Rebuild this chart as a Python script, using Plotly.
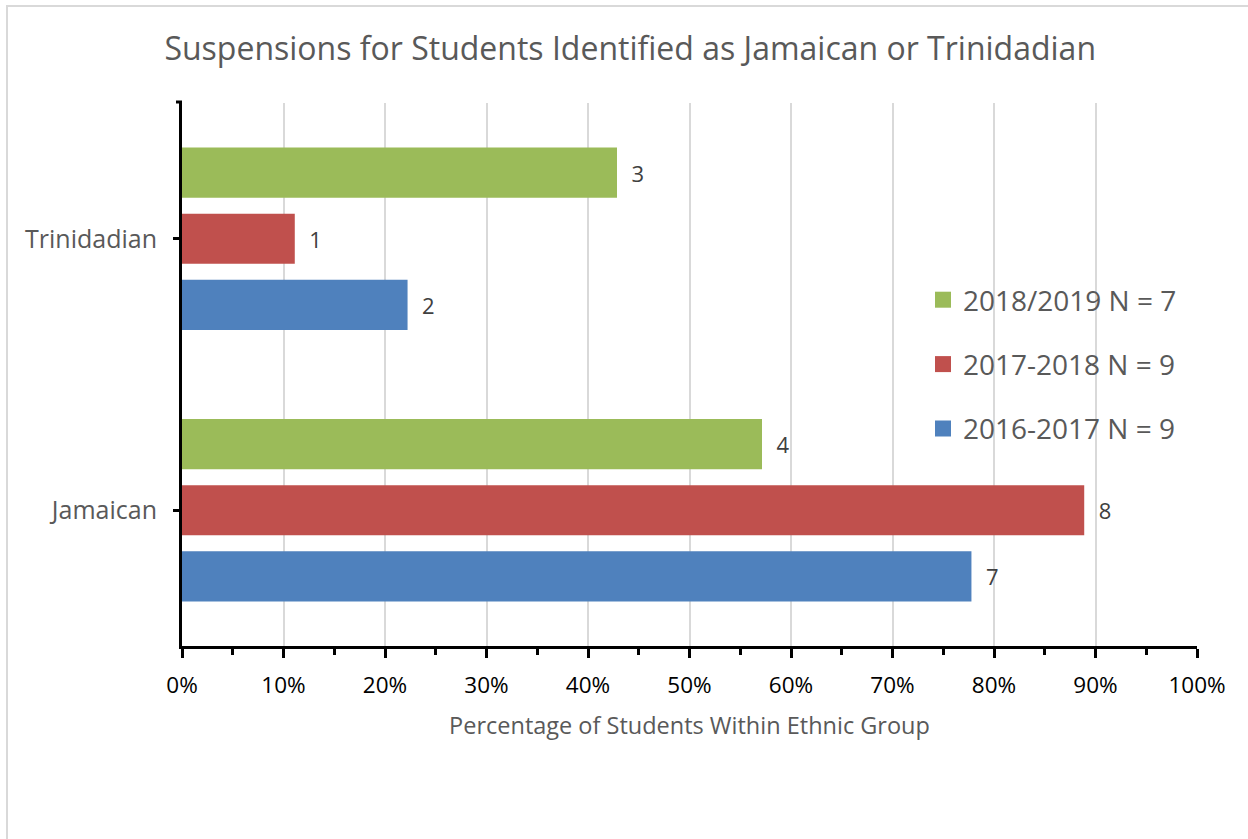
import plotly.graph_objects as go

# Ethnic groups (bottom to top on the category axis)
groups = ["Jamaican", "Trinidadian"]

# School years, cohort sizes and suspension counts per group
years = ["2016-2017", "2017-2018", "2018/2019"]
cohort_n = [9, 9, 7]
counts_2016_2017 = [7, 2]
counts_2017_2018 = [8, 1]
counts_2018_2019 = [4, 3]

colors = ["#4F81BD", "#C0504D", "#9BBB59"]
font_family = "'Open Sans', sans-serif"

fig = go.Figure()
series = [counts_2016_2017, counts_2017_2018, counts_2018_2019]
for i, (year, n, counts, color) in enumerate(zip(years, cohort_n, series, colors)):
    share = [c / n for c in counts]
    fig.add_trace(
        go.Bar(
            y=groups,
            x=share,
            orientation="h",
            name=f"{year} N = {n}",
            showlegend=False,
            marker=dict(color=color, line=dict(width=0)),
            text=[str(c) for c in counts],
            texttemplate="  %{text}",
            textposition="outside",
            constraintext="none",
            cliponaxis=False,
            textfont=dict(size=22, color="#404040", family=font_family),
            outsidetextfont=dict(size=22, color="#404040", family=font_family),
        )
    )
    # square legend key for the series
    fig.add_trace(
        go.Scatter(
            x=[None],
            y=[None],
            mode="markers",
            name=f"{year} N = {n}",
            legendgroup=year,
            legendrank=len(years) - i,
            marker=dict(symbol="square", size=16, color=color),
            showlegend=True,
            hoverinfo="skip",
        )
    )

fig.update_layout(
    width=1248,
    height=839,
    paper_bgcolor="white",
    plot_bgcolor="white",
    barmode="group",
    bargap=0.27,
    bargroupgap=0.24,
    margin=dict(l=182, r=51, t=103, b=193, autoexpand=False),
    title=dict(
        text="Suspensions for Students Identified as Jamaican or Trinidadian",
        x=0.505,
        xanchor="center",
        y=1 - 49 / 839,
        yanchor="middle",
        font=dict(size=32, color="#595959", family=font_family),
    ),
    font=dict(family=font_family),
    showlegend=True,
    legend=dict(
        traceorder="grouped",
        tracegroupgap=25,
        x=(937 - 182 - 14) / 1015,
        xanchor="left",
        y=1 - 172 / 543,
        yanchor="top",
        font=dict(size=28, color="#595959", family=font_family),
        bgcolor="rgba(0,0,0,0)",
        itemwidth=30,
    ),
    xaxis=dict(
        range=[0, 1],
        tickformat=".0%",
        dtick=0.1,
        tick0=0,
        showgrid=True,
        gridcolor="#D9D9D9",
        gridwidth=2,
        showline=True,
        linecolor="black",
        linewidth=3,
        ticks="outside",
        ticklen=9,
        tickwidth=3,
        tickcolor="black",
        ticklabelstandoff=8,
        minor=dict(ticks="outside", ticklen=6, tickwidth=3, tickcolor="black", dtick=0.05, showgrid=False),
        tickfont=dict(size=22.5, color="black", family=font_family),
        zeroline=False,
        fixedrange=True,
        title=dict(
            text="Percentage of Students Within Ethnic Group",
            font=dict(size=23.5, color="#595959", family=font_family),
            standoff=19,
        ),
    ),
    yaxis=dict(
        categoryorder="array",
        categoryarray=groups,
        showline=True,
        linecolor="black",
        linewidth=3,
        ticks="outside",
        ticklen=6,
        tickwidth=3,
        tickcolor="black",
        ticklabelstandoff=11,
        showgrid=False,
        tickfont=dict(size=25, color="#595959", family=font_family),
        fixedrange=True,
    ),
    shapes=[
        # light outer frame of the chart area
        dict(
            type="rect", xref="paper", yref="paper",
            x0=-182 / 1015 + 7 / 1015, x1=1.2, y0=-0.6, y1=1 + 97 / 543,
            line=dict(color="#D9D9D9", width=2), fillcolor="rgba(0,0,0,0)", layer="below",
        ),
        # small cap at the top of the category axis
        dict(
            type="line", xref="paper", yref="paper",
            x0=-6 / 1015, x1=0, y0=1 + 1 / 543, y1=1 + 1 / 543,
            line=dict(color="black", width=3),
        ),
    ],
)

fig.write_html("out.html")
